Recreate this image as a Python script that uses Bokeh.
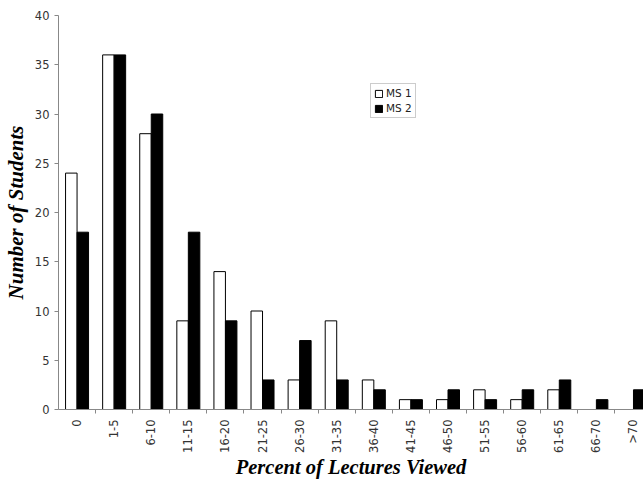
import numpy as np
from bokeh.plotting import figure
from bokeh.models import ColumnDataSource, FixedTicker, Legend, LegendItem, Range1d
from bokeh.embed import file_html
from bokeh.resources import INLINE

categories = ["0", "1-5", "6-10", "11-15", "16-20", "21-25", "26-30", "31-35",
              "36-40", "41-45", "46-50", "51-55", "56-60", "61-65", "66-70", ">70"]
ms1 = [24, 36, 28, 9, 14, 10, 3, 9, 3, 1, 1, 2, 1, 2, 0, 0]
ms2 = [18, 36, 30, 18, 9, 3, 7, 3, 2, 1, 2, 1, 2, 3, 1, 2]
y_ticks = [0, 5, 10, 15, 20, 25, 30, 35, 40]

centers = [i + 0.5 for i in range(len(categories))]
bw = 0.31

def src(vals, off):
    xs = [c + off for c, v in zip(centers, vals) if v > 0]
    ys = [v for v in vals if v > 0]
    return ColumnDataSource(dict(x=xs, top=ys))

p = figure(width=643, height=481, output_backend="svg", toolbar_location=None,
           x_range=Range1d(0, 15.77), y_range=Range1d(0, 40),
           min_border_left=58, min_border_right=0, min_border_top=15, min_border_bottom=72)
p.outline_line_color = None
p.xgrid.visible = False
p.ygrid.visible = False
p.background_fill_color = "white"

r1 = p.vbar(x="x", top="top", width=bw, source=src(ms1, -bw / 2),
            fill_color="white", line_color="black", line_width=1)
r2 = p.vbar(x="x", top="top", width=bw, source=src(ms2, bw / 2),
            fill_color="black", line_color="black", line_width=1)

# x axis
p.xaxis.ticker = FixedTicker(ticks=centers, minor_ticks=list(range(1, len(categories))))
p.xaxis.major_label_overrides = {c: lab for c, lab in zip(centers, categories)}
p.xaxis.major_label_orientation = np.pi / 2
p.xaxis.major_tick_line_color = None
p.xaxis.minor_tick_line_color = "#888888"
p.xaxis.minor_tick_in = 0
p.xaxis.minor_tick_out = 4
p.xaxis.axis_line_color = "#888888"
p.xaxis.major_label_text_font = "DejaVu Sans"
p.xaxis.major_label_text_font_size = "11.5px"
p.xaxis.major_label_text_color = "#333333"
p.xaxis.major_label_standoff = 4
p.xaxis.axis_label = "Percent of Lectures Viewed"
p.xaxis.axis_label_text_font = "Liberation Serif"
p.xaxis.axis_label_text_font_style = "bold italic"
p.xaxis.axis_label_text_font_size = "20.5px"
p.xaxis.axis_label_text_color = "black"
p.xaxis.axis_label_standoff = 0

# y axis
p.yaxis.ticker = FixedTicker(ticks=y_ticks)
p.yaxis.minor_tick_line_color = None
p.yaxis.major_tick_line_color = "#888888"
p.yaxis.major_tick_in = 0
p.yaxis.major_tick_out = 4
p.yaxis.axis_line_color = "#888888"
p.yaxis.major_label_text_font = "DejaVu Sans"
p.yaxis.major_label_text_font_size = "11.5px"
p.yaxis.major_label_text_color = "#333333"
p.yaxis.major_label_standoff = 5
p.yaxis.axis_label = "Number of Students"
p.yaxis.axis_label_text_font = "Liberation Serif"
p.yaxis.axis_label_text_font_style = "bold italic"
p.yaxis.axis_label_text_font_size = "21px"
p.yaxis.axis_label_text_color = "black"
p.yaxis.axis_label_standoff = 4

legend = Legend(items=[LegendItem(label="MS 1", renderers=[r1]),
                       LegendItem(label="MS 2", renderers=[r2])],
                location=(312, 291))
legend.glyph_width = 9
legend.glyph_height = 9
legend.label_text_font = "DejaVu Sans"
legend.label_text_font_size = "10.5px"
legend.label_text_color = "#222222"
legend.label_standoff = 3
legend.label_height = 10
legend.padding = 3
legend.spacing = 3
legend.margin = 0
legend.border_line_color = "#999999"
legend.border_line_width = 1
legend.background_fill_color = "white"
p.add_layout(legend)

open("out.html", "w").write(file_html(p, INLINE))
